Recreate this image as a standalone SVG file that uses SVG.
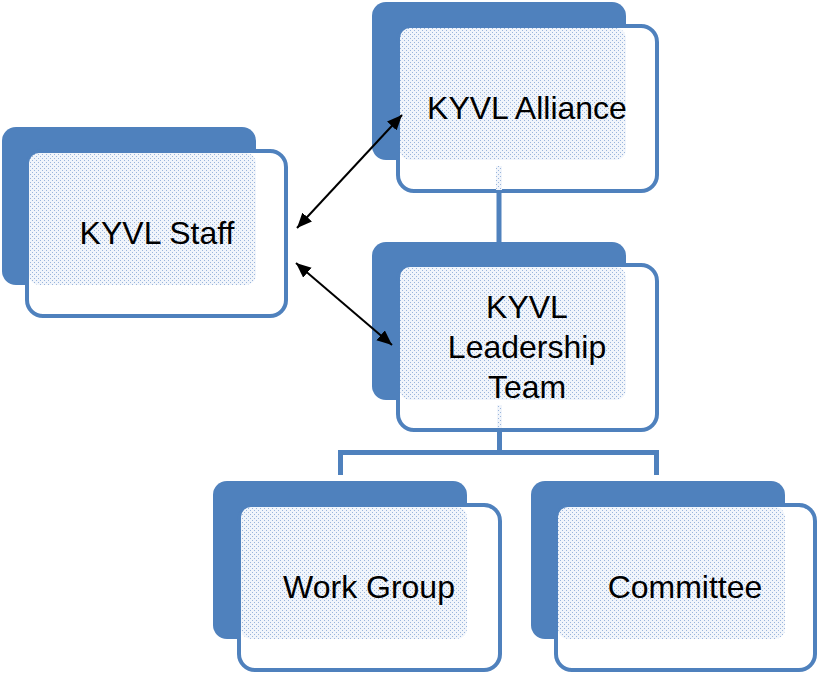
<svg xmlns="http://www.w3.org/2000/svg" width="820" height="673" viewBox="0 0 820 673">
<defs>
<pattern id="dots" width="4" height="4" patternUnits="userSpaceOnUse">
<rect width="4" height="4" fill="#f1f5fb"/>
<rect x="0" y="0" width="1" height="1" fill="#9ab5dc"/>
<rect x="2" y="2" width="1" height="1" fill="#9ab5dc"/>
</pattern>
<marker id="ah" markerUnits="userSpaceOnUse" markerWidth="16" markerHeight="14" refX="15" refY="6.5" orient="auto-start-reverse">
<path d="M0,0 L15,6.5 L0,13 z" fill="#000"/>
</marker>
<style>
.back{fill:#4f81bd;}
.front{fill:#ffffff;stroke:#4f81bd;stroke-width:4;}
.pat{fill:url(#dots);}
.lbl{font-family:"Liberation Sans",Arial,sans-serif;font-size:32px;fill:#000;text-anchor:middle;}
.tree{fill:none;stroke:#4f81bd;stroke-width:5;stroke-linejoin:miter;}
.arrow{stroke:#000;stroke-width:2;fill:none;marker-start:url(#ah);marker-end:url(#ah);}
</style>
</defs>

<g id="staff">
<rect class="back" x="2" y="127" width="254" height="158" rx="14"/>
<rect class="front" x="27" y="151" width="259" height="165" rx="16"/>
<rect class="pat" x="29" y="153" width="227" height="132" rx="10"/>
<text class="lbl" x="157" y="244">KYVL Staff</text>
</g>

<g id="alliance">
<rect class="back" x="372" y="2" width="254" height="158" rx="14"/>
<rect class="front" x="398" y="26" width="259" height="165" rx="16"/>
<rect class="pat" x="400" y="28" width="226" height="132" rx="10"/>
<text class="lbl" x="527" y="119">KYVL Alliance</text>
</g>

<g id="leadership">
<rect class="back" x="372" y="242" width="254" height="158" rx="14"/>
<rect class="front" x="398" y="265" width="259" height="165" rx="16"/>
<rect class="pat" x="400" y="267" width="226" height="133" rx="10"/>
<text class="lbl" x="527" y="318">KYVL</text>
<text class="lbl" x="527" y="358">Leadership</text>
<text class="lbl" x="527" y="398">Team</text>
</g>

<g id="workgroup">
<rect class="back" x="213" y="481" width="254" height="158" rx="14"/>
<rect class="front" x="239" y="505" width="261" height="165" rx="16"/>
<rect class="pat" x="241" y="507" width="226" height="132" rx="10"/>
<text class="lbl" x="369" y="598">Work Group</text>
</g>

<g id="committee">
<rect class="back" x="531" y="481" width="254" height="158" rx="14"/>
<rect class="front" x="556" y="505" width="259" height="165" rx="16"/>
<rect class="pat" x="558" y="507" width="227" height="132" rx="10"/>
<text class="lbl" x="685" y="598">Committee</text>
</g>

<g id="connectors">
<line class="tree" x1="499" y1="193" x2="499" y2="242"/>
<rect class="pat" x="496" y="166" width="6" height="24"/>
<rect class="pat" x="497" y="405" width="5" height="23"/>
<path class="tree" d="M499.5,432 V452.5 M340.5,475 V452.5 H656.5 V475"/>
<line class="arrow" x1="297" y1="228" x2="402" y2="115"/>
<line class="arrow" x1="296" y1="263" x2="392" y2="345"/>
</g>
</svg>
